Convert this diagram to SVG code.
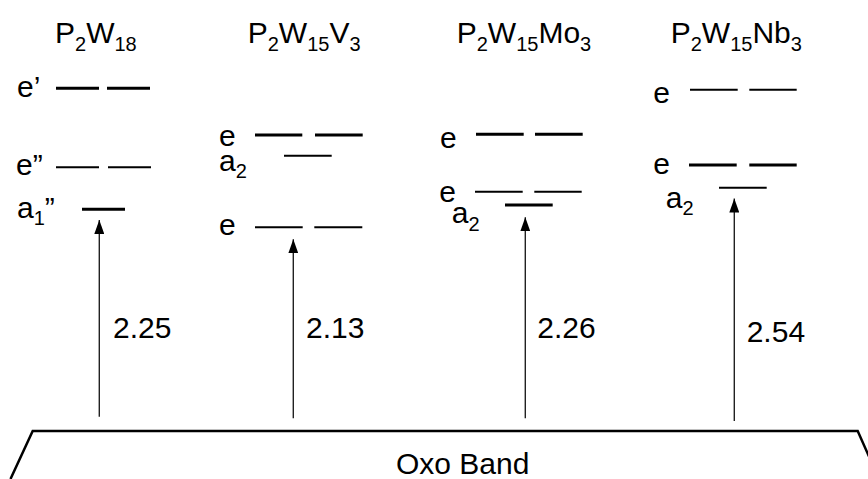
<svg xmlns="http://www.w3.org/2000/svg" width="868" height="479" viewBox="0 0 868 479">
<style>
text{font-family:"Liberation Sans",Arial,sans-serif;fill:#000}
.t{font-size:30px}
.l{font-size:30px}
.n{font-size:30px}
.thick{stroke:#000;stroke-width:3}
.thin{stroke:#000;stroke-width:2}
.arr{stroke:#222;stroke-width:1.4;fill:none}
</style>
<defs>
<marker id="ah" viewBox="0 0 14 10" refX="14" refY="5" markerWidth="14" markerHeight="10" markerUnits="userSpaceOnUse" orient="auto">
<path d="M0,0 L14,5 L0,10 z" fill="#000"/>
</marker>
</defs>
<rect width="868" height="479" fill="#fff"/>

<g id="col-P2W18">
<text class="t" x="55" y="43">P<tspan font-size="20" dy="8">2</tspan><tspan dy="-8">W</tspan><tspan font-size="20" dy="8">18</tspan></text>
<text class="l" x="17" y="97">e’</text>
<line class="thick" x1="56" y1="88.3" x2="99" y2="88.3"/>
<line class="thick" x1="107" y1="88.3" x2="150" y2="88.3"/>
<text class="l" x="16" y="175">e”</text>
<line class="thin" x1="56" y1="167.3" x2="99" y2="167.3"/>
<line class="thin" x1="108" y1="167.3" x2="151" y2="167.3"/>
<text class="l" x="17" y="218">a<tspan font-size="20" dy="7">1</tspan><tspan dy="-7">”</tspan></text>
<line class="thick" x1="82" y1="209.3" x2="125" y2="209.3"/>
<text class="n" x="113" y="338">2.25</text>
</g>

<g id="col-P2W15V3">
<text class="t" x="247.7" y="43">P<tspan font-size="20" dy="8">2</tspan><tspan dy="-8">W</tspan><tspan font-size="20" dy="8">15</tspan><tspan dy="-8">V</tspan><tspan font-size="20" dy="8">3</tspan></text>
<text class="l" x="219" y="146">e</text>
<line class="thick" x1="255" y1="135" x2="302.3" y2="135"/>
<line class="thick" x1="315" y1="135" x2="362.7" y2="135"/>
<text class="l" x="219" y="171">a<tspan font-size="20" dy="7">2</tspan></text>
<line class="thin" x1="284" y1="155.7" x2="331.7" y2="155.7"/>
<text class="l" x="219" y="235">e</text>
<line class="thin" x1="255" y1="227.3" x2="302.7" y2="227.3"/>
<line class="thin" x1="314.3" y1="227.3" x2="362.3" y2="227.3"/>
<text class="n" x="306" y="338.3">2.13</text>
</g>

<g id="col-P2W15Mo3">
<text class="t" x="456.7" y="43">P<tspan font-size="20" dy="8">2</tspan><tspan dy="-8">W</tspan><tspan font-size="20" dy="8">15</tspan><tspan dy="-8">Mo</tspan><tspan font-size="20" dy="8">3</tspan></text>
<text class="l" x="440" y="147.7">e</text>
<line class="thick" x1="476" y1="134.3" x2="523.7" y2="134.3"/>
<line class="thick" x1="535" y1="134.3" x2="582.7" y2="134.3"/>
<text class="l" x="439.3" y="201.7">e</text>
<line class="thin" x1="475" y1="191.7" x2="522.7" y2="191.7"/>
<line class="thin" x1="534.3" y1="191.7" x2="581.7" y2="191.7"/>
<text class="l" x="451.7" y="222.7">a<tspan font-size="20" dy="8">2</tspan></text>
<line class="thick" x1="505" y1="205" x2="552.7" y2="205"/>
<text class="n" x="537.3" y="338.3">2.26</text>
</g>

<g id="col-P2W15Nb3">
<text class="t" x="670.7" y="43">P<tspan font-size="20" dy="8">2</tspan><tspan dy="-8">W</tspan><tspan font-size="20" dy="8">15</tspan><tspan dy="-8">Nb</tspan><tspan font-size="20" dy="8">3</tspan></text>
<text class="l" x="653.3" y="102.7">e</text>
<line class="thin" x1="690" y1="89.7" x2="737.7" y2="89.7"/>
<line class="thin" x1="749.3" y1="89.7" x2="796.7" y2="89.7"/>
<text class="l" x="653.3" y="174">e</text>
<line class="thick" x1="689" y1="165" x2="736.7" y2="165"/>
<line class="thick" x1="749.3" y1="165" x2="796.7" y2="165"/>
<text class="l" x="665.7" y="208.3">a<tspan font-size="20" dy="7">2</tspan></text>
<line class="thin" x1="719" y1="187.7" x2="766.7" y2="187.7"/>
<text class="n" x="746.7" y="342.3">2.54</text>
</g>

<g id="oxo-band">
<polyline points="10.5,479 32.7,431 857.7,431 879,479" fill="none" stroke="#000" stroke-width="2.5"/>
<text x="396" y="474" style="font-size:30px">Oxo Band</text>
</g>

<g id="connectors">
<line class="arr" x1="99.3" y1="416.7" x2="99.3" y2="220" marker-end="url(#ah)"/>
<line class="arr" x1="293.3" y1="418.3" x2="293.3" y2="239.3" marker-end="url(#ah)"/>
<line class="arr" x1="525.3" y1="418.3" x2="525.3" y2="217.3" marker-end="url(#ah)"/>
<line class="arr" x1="734.3" y1="421" x2="734.3" y2="198.5" marker-end="url(#ah)"/>
</g>
</svg>
